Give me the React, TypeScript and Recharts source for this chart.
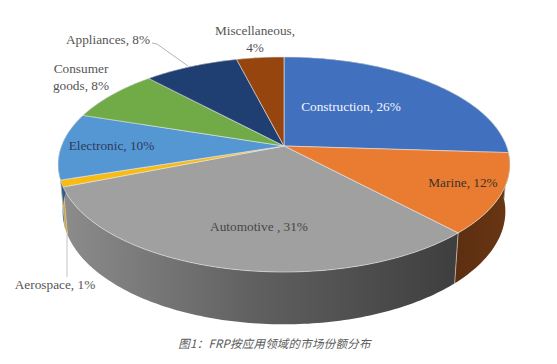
import React from 'react';
import { PieChart, Pie } from 'recharts';

const sectors = ['Construction', 'Marine', 'Automotive ', 'Aerospace', 'Electronic', 'Consumer goods', 'Appliances', 'Miscellaneous'];
const shares = [26, 12, 31, 1, 10, 8, 8, 4];
const faceColors = ['#4170bf', '#e97c30', '#a0a0a0', '#f7bb14', '#5597d3', '#70ab47', '#1f3f73', '#96450e'];
const wallColors = ['#2a4a80', 'url(#marineWall)', 'url(#autoWall)', '#d0a41e', '#2e5c88', '#4a7430', '#14294c', '#622d09'];

// label lines and where they sit, one entry per sector
const labelLines = [
  ['Construction, 26%'],
  ['Marine, 12%'],
  ['Automotive , 31%'],
  ['Aerospace, 1%'],
  ['Electronic, 10%'],
  ['Consumer', 'goods, 8%'],
  ['Appliances, 8%'],
  ['Miscellaneous,', '4%'],
];
const labelSpots = [
  [351, 111],
  [463, 187],
  [259, 231],
  [55, 289],
  [111.5, 150],
  [81, 73],
  [108, 44],
  [255, 35],
];
const labelColors = ['#f4f6fb', '#40332c', '#474747', '#555555', '#2c3c5c', '#555555', '#555555', '#555555'];

const WIDTH = 557;
const HEIGHT = 364;
const CENTER_X = 284;
const CENTER_Y = 146;
const RADIUS = 222.5;

// perspective of the tilted disc
const TILT = 0.469;
const NEAR_FAR = 0.172;
// lower rim of the disc, relative to the top face
const RIM_SCALE_X = 0.98;
const RIM_SCALE_Y = 1.05;
const RIM_DROP = 46;

const serif = '"Liberation Serif", serif';

const project = (cx: number, cy: number, r: number, deg: number, lower = false) => {
  const rad = (deg * Math.PI) / 180;
  const u = Math.cos(rad);
  const v = Math.sin(rad);
  const w = 1 + NEAR_FAR * v;
  const x = (r * u) / w;
  const y = (r * TILT * v) / w;
  if (lower) return [cx + x * RIM_SCALE_X, cy - y * RIM_SCALE_Y + RIM_DROP];
  return [cx + x, cy - y];
};

const arcPoints = (cx: number, cy: number, r: number, from: number, to: number, lower = false) => {
  const steps = Math.max(2, Math.ceil(Math.abs(to - from)));
  const pts: number[][] = [];
  for (let i = 0; i <= steps; i++) {
    pts.push(project(cx, cy, r, from + ((to - from) * i) / steps, lower));
  }
  return pts;
};

const toPath = (pts: number[][]) =>
  pts.map((p, i) => `${i === 0 ? 'M' : 'L'}${p[0].toFixed(2)},${p[1].toFixed(2)}`).join(' ') + ' Z';

const FaceSector = (props: any) => {
  const { cx, cy, outerRadius, startAngle, endAngle, index } = props;
  const pts = [[cx, cy], ...arcPoints(cx, cy, outerRadius, startAngle, endAngle)];
  return <path d={toPath(pts)} fill={faceColors[index]} stroke="#e6e6e6" strokeWidth={0.6} strokeLinejoin="round" />;
};

const WallSector = (props: any) => {
  const { cx, cy, outerRadius, startAngle, endAngle, index } = props;
  const top = arcPoints(cx, cy, outerRadius, startAngle, endAngle);
  const bottom = arcPoints(cx, cy, outerRadius, endAngle, startAngle, true);
  const seamTop = top[0];
  const seamBottom = bottom[bottom.length - 1];
  return (
    <g>
      <path d={toPath([...top, ...bottom])} fill={wallColors[index]} />
      <line x1={seamTop[0]} y1={seamTop[1]} x2={seamBottom[0]} y2={seamBottom[1]} stroke="#c9bdb0" strokeWidth={0.8} />
    </g>
  );
};

const SectorLabel = (props: any) => {
  const { index } = props;
  const [x, y] = labelSpots[index];
  return (
    <g>
      <text x={x} y={y} textAnchor="middle" fontFamily={serif} fontSize={13.3} fill={labelColors[index]}>
        {labelLines[index].map((line, i) => (
          <tspan key={line} x={x} dy={i === 0 ? 0 : 17}>
            {line}
          </tspan>
        ))}
      </text>
    </g>
  );
};

export default function App() {
  const pieData = sectors.map((name, i) => ({ name, value: shares[i] }));

  return (
    <div style={{ position: 'absolute', left: 0, top: 0, width: WIDTH, height: HEIGHT, overflow: 'hidden', background: '#fff' }}>
      <PieChart width={WIDTH} height={HEIGHT} margin={{ top: 0, right: 0, bottom: 0, left: 0 }}>
        <defs>
          <linearGradient id="autoWall" gradientUnits="userSpaceOnUse" x1={62} y1={0} x2={458} y2={0}>
            <stop offset="0%" stopColor="#8c8c8c" />
            <stop offset="50%" stopColor="#5f5f5f" />
            <stop offset="100%" stopColor="#3e3e3e" />
          </linearGradient>
          <linearGradient id="marineWall" gradientUnits="userSpaceOnUse" x1={453} y1={0} x2={508} y2={0}>
            <stop offset="0%" stopColor="#5c2e10" />
            <stop offset="100%" stopColor="#683614" />
          </linearGradient>
        </defs>
        <Pie
          data={pieData}
          dataKey="value"
          cx={CENTER_X}
          cy={CENTER_Y}
          outerRadius={RADIUS}
          startAngle={90}
          endAngle={-270}
          shape={WallSector}
          label={false}
          labelLine={false}
          stroke="none"
          isAnimationActive={false}
        />
        <Pie
          data={pieData}
          dataKey="value"
          cx={CENTER_X}
          cy={CENTER_Y}
          outerRadius={RADIUS}
          startAngle={90}
          endAngle={-270}
          shape={FaceSector}
          label={SectorLabel}
          labelLine={false}
          stroke="none"
          isAnimationActive={false}
        />
        <polyline points="152,43 157,44 188,66" fill="none" stroke="#b5b5b5" strokeWidth={1} />
        <line x1={67} y1={234} x2={67} y2={277} stroke="#c4c4c4" strokeWidth={1} />
        <text
          x={274.5}
          y={348}
          textAnchor="middle"
          fontFamily='"Noto Sans CJK SC", sans-serif'
          fontStyle="italic"
          fontSize={11.5}
          letterSpacing={0.22}
          fill="#5a5a5a"
        >
          图1：FRP按应用领域的市场份额分布
        </text>
      </PieChart>
    </div>
  );
}
